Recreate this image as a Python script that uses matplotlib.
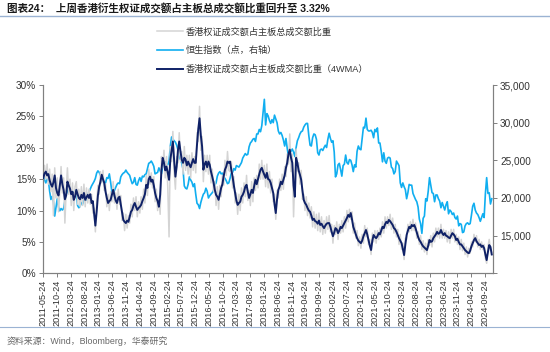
import numpy as np
import pandas as pd
import matplotlib
matplotlib.use("Agg")
import matplotlib.pyplot as plt
from matplotlib.lines import Line2D
from matplotlib.ticker import FuncFormatter

plt.rcParams['font.family'] = ['Liberation Sans', 'Noto Sans CJK SC', 'DejaVu Sans']

# 双周数据（2011-05 起，每 14 天一个点）
# 恒生指数（点，右轴）
hsi = [
    # 2011
    23100, 22400, 22000, 22500, 22400, 20900, 19800, 20200, 19500, 17600, 18800, 19900, 18800, 18300, 18600, 18400,
    # 2012
    18600, 19600, 20500, 20900, 21400, 21200, 20900, 20600, 20700, 21000, 20500, 19000, 18700, 18900, 19400, 19200,
    19800, 20000, 19700, 20500, 20800, 21200, 21600, 21900, 22200, 22600,
    # 2013
    23300, 23600, 23400, 23000, 22800, 22300, 22100, 22000, 22700, 22600, 23200, 22100, 20800, 20300, 21000, 21400,
    21800, 22000, 21900, 22800, 23100, 23300, 23400, 23700, 23400, 23200,
    # 2014
    23000, 22400, 21900, 22100, 22700, 21800, 21700, 22300, 22700, 22200, 22900, 22800, 23100, 23200, 23900, 24600,
    24700, 24900, 24600, 24200, 23200, 23300, 23400, 24000, 23600, 23200,
    # 2015
    24200, 24700, 24800, 24500, 24400, 24900, 26900, 28100, 27800, 27600, 27400, 27000, 26400, 25400, 25100, 24600,
    23800, 21600, 21300, 21200, 21800, 22800, 22400, 22100, 21500, 21900,
    # 2016
    20500, 19300, 19100, 18600, 19400, 20000, 20500, 20700, 21300, 20900, 20000, 20300, 20500, 20700, 21000, 21700,
    22000, 22900, 23300, 23500, 23200, 23300, 22800, 22600, 22300, 21900, 22000,
    # 2017
    22600, 23300, 23400, 23900, 23700, 24300, 24200, 24100, 24400, 24700, 25300, 25600, 25900, 25700, 25800, 26800,
    27300, 27500, 27800, 27900, 27500, 28500, 28500, 29100, 28800, 29600,
    # 2018
    31400, 33100, 29700, 31200, 30900, 30300, 29900, 30400, 30000, 31000, 30500, 30000, 28900, 28500, 28700, 28300,
    27700, 26900, 27900, 26600, 25500, 26400, 26200, 26500, 26100, 25500,
    # 2019
    26700, 27600, 28000, 28500, 28800, 28900, 29400, 29700, 29900, 29900, 28300, 27000, 26900, 28000, 28500, 28400,
    27800, 26000, 25700, 26400, 26500, 26300, 26700, 27000, 26700, 27800,
    # 2020
    28600, 27900, 27400, 27600, 26100, 22800, 23200, 24400, 24600, 23800, 22900, 24300, 24500, 25700, 24700, 24500,
    25100, 25000, 24400, 23500, 24400, 24100, 26200, 26900, 26500, 26400,
    # 2021
    27900, 29400, 29300, 30600, 29100, 28900, 28900, 29000, 28700, 28000, 29100, 28800, 29300, 27300, 27300, 26200,
    24800, 26000, 24900, 24600, 25300, 25400, 25300, 24100, 23900, 23200,
    # 2022
    23500, 24900, 24600, 24300, 22000, 21400, 22000, 21500, 21100, 19900, 20700, 21800, 21700, 21700, 20600, 20200,
    19800, 19500, 18800, 17200, 16600, 15300, 17300, 17600, 19900, 19600,
    # 2023
    20900, 22700, 21700, 20700, 20600, 19500, 20400, 20400, 19900, 19600, 18700, 19400, 18900, 18400, 19100, 19500,
    17900, 18400, 18200, 17800, 18000, 17400, 17200, 17600, 16300, 16600,
    # 2024
    16500, 15400, 15500, 16300, 16600, 16700, 16500, 16600, 17700, 18900, 19300, 18400, 18000, 17800, 17400, 16900,
    17400, 17900, 17400, 20600, 22700, 20600, 20700, 19200, 19900,
]

# 香港权证成交额占主板成交额比重（4WMA，%）
wma = [
    15.2, 15.9, 16.2, 15.6, 15.8, 14.8, 14.2, 13.8, 14.5, 15.6, 13.6, 12.8, 12.4, 14.0, 15.6, 14.2,
    13.3, 11.8, 12.4, 14.6, 14.0, 13.5, 12.6, 13.0, 11.7, 12.2, 13.3, 12.6, 12.0, 11.8, 12.5, 12.0,
    12.8, 11.7, 12.1, 12.5, 12.0, 12.6, 11.2, 11.5, 9.5, 7.6,
    9.8, 12.4, 13.8, 14.6, 15.7, 15.0, 14.4, 13.0, 12.0, 11.2, 11.5, 11.7, 12.5, 13.3, 12.4, 11.6,
    11.2, 12.0, 12.2, 11.0, 9.8, 8.5, 8.2, 8.0, 8.4, 8.2,
    9.0, 9.8, 10.1, 10.8, 11.2, 10.6, 10.1, 10.4, 10.6, 10.9, 11.5, 12.0, 12.6, 14.1, 13.6, 15.0,
    15.4, 14.6, 14.9, 14.0, 12.8, 12.0, 11.5, 10.6, 12.5, 16.4,
    18.4, 17.6, 16.4, 17.0, 16.0, 14.9, 18.1, 19.5, 21.0, 18.0, 15.4, 17.0, 19.6, 21.0, 19.4, 18.1,
    17.6, 18.4, 18.1, 17.2, 17.8, 17.3, 16.9, 17.6, 18.2, 17.6,
    17.6, 20.5, 23.0, 24.7, 22.0, 20.2, 16.5, 17.4, 17.8, 16.9, 17.8, 17.3, 16.2, 15.4, 14.5, 13.3,
    12.5, 12.2, 11.7, 12.6, 13.6, 14.2, 15.5, 16.5, 17.0, 17.8, 17.6,
    17.8, 16.5, 15.4, 14.0, 12.8, 11.6, 10.9, 11.2, 11.4, 12.2, 12.5, 13.0, 13.8, 14.1, 13.0, 12.0,
    12.6, 13.3, 12.8, 13.9, 14.9, 14.2, 15.0, 15.8, 16.5, 16.8,
    16.2, 15.7, 15.2, 16.0, 15.0, 14.9, 14.4, 13.6, 12.8, 11.0, 9.6, 11.8, 13.3, 13.8, 14.6, 14.2,
    14.9, 15.6, 16.8, 17.6, 19.0, 19.7, 18.4, 17.6, 14.0, 12.2,
    18.4, 17.6, 16.4, 15.7, 14.9, 13.2, 11.7, 11.2, 10.9, 10.4, 10.0, 9.8, 9.2, 8.5, 8.7, 8.3,
    8.2, 7.9, 8.4, 7.7, 7.9, 7.5, 7.2, 7.6, 7.9, 8.0,
    8.0, 7.4, 6.6, 5.9, 6.5, 7.2, 7.0, 6.4, 6.8, 7.4, 7.2, 7.6, 8.0, 8.4, 8.8, 9.3,
    9.0, 9.6, 8.6, 7.4, 6.8, 6.2, 5.6, 5.2, 5.0, 4.8,
    5.2, 5.9, 6.4, 6.9, 6.2, 5.3, 4.4, 3.7, 5.2, 6.1, 5.8, 5.6, 5.9, 6.4, 6.2, 6.8,
    7.4, 7.2, 7.8, 8.2, 8.0, 8.5, 8.3, 8.0, 7.7, 7.2,
    7.0, 6.6, 6.1, 5.6, 5.2, 4.8, 3.9, 2.9, 4.6, 6.1, 6.8, 7.4, 7.2, 7.7, 7.5, 7.7,
    7.2, 6.5, 5.8, 5.3, 5.0, 4.6, 4.3, 4.1, 3.9, 3.7,
    4.4, 5.3, 5.0, 5.1, 5.6, 5.9, 6.2, 6.6, 6.3, 6.4, 6.9, 6.4, 6.1, 6.4, 6.0, 5.9,
    5.7, 5.6, 6.0, 6.4, 6.2, 5.9, 5.3, 5.5, 5.0, 4.6,
    4.6, 4.3, 4.0, 3.7, 3.5, 3.3, 3.2, 3.6, 4.3, 4.8, 5.3, 5.6, 5.1, 4.8, 4.5, 4.6,
    4.2, 4.4, 4.0, 3.0, 2.1, 3.4, 4.5, 4.2, 3.0,
]

# 香港权证成交额占主板总成交额比重（%）
raw = [
    14.5, 17.2, 15.0, 17.4, 14.2, 16.6, 13.0, 15.8, 9.2, 16.8, 12.0, 15.2, 9.8, 13.0, 17.0, 12.8,
    15.2, 8.0, 13.0, 16.8, 12.6, 15.0, 10.8, 14.4, 10.0, 13.8, 14.6, 11.0, 13.4, 10.6, 13.8, 10.8,
    14.2, 10.6, 13.6, 11.2, 13.4, 11.0, 12.6, 9.6, 10.4, 6.6,
    11.0, 14.0, 12.6, 16.2, 14.4, 16.4, 13.2, 14.2, 10.6, 12.6, 10.0, 13.0, 11.4, 14.6, 11.2, 12.8,
    10.2, 13.4, 11.0, 12.4, 8.4, 9.6, 6.8, 9.4, 7.2, 9.2,
    8.0, 11.0, 9.0, 12.0, 10.0, 12.2, 9.0, 11.4, 9.6, 12.2, 10.2, 13.4, 11.2, 15.6, 12.4, 16.6,
    14.2, 16.0, 13.6, 15.4, 11.4, 13.4, 10.0, 11.8, 9.4, 18.6,
    16.8, 19.6, 15.2, 18.6, 13.6, 5.8, 20.2, 17.8, 22.6, 16.2, 13.4, 18.6, 17.6, 22.4, 17.8, 19.4,
    15.8, 20.2, 16.4, 18.8, 15.8, 18.8, 15.2, 19.2, 16.4, 18.6,
    16.0, 22.4, 21.0, 26.6, 19.6, 21.8, 14.6, 18.8, 16.2, 18.8, 15.8, 18.8, 14.4, 16.6, 13.0, 14.6,
    10.8, 13.8, 10.2, 14.0, 12.2, 15.6, 14.0, 18.0, 15.6, 19.4, 16.4,
    16.2, 17.8, 13.6, 15.4, 11.2, 12.8, 9.4, 12.6, 10.0, 13.6, 11.2, 14.4, 12.2, 15.6, 11.6, 13.2,
    10.8, 14.6, 11.4, 15.2, 13.2, 15.6, 13.6, 17.4, 15.0, 18.0,
    15.0, 17.2, 13.8, 17.4, 13.6, 16.2, 12.8, 15.0, 11.4, 12.6, 8.6, 13.2, 12.0, 15.0, 13.2, 15.8,
    13.4, 17.0, 15.4, 19.0, 17.4, 22.2, 16.2, 19.0, 9.0, 15.4,
    19.8, 16.2, 17.6, 14.2, 16.4, 11.8, 12.6, 10.0, 12.2, 9.2, 11.2, 8.8, 10.6, 7.4, 9.8, 7.2,
    9.4, 6.8, 9.6, 6.6, 9.0, 6.2, 8.4, 6.4, 9.0, 7.0,
    9.2, 6.6, 7.8, 4.8, 7.6, 6.2, 8.2, 5.4, 7.8, 6.4, 8.4, 6.6, 9.0, 7.2, 10.0, 8.2,
    10.2, 8.6, 9.8, 6.4, 8.0, 5.6, 6.8, 4.4, 5.8, 4.0,
    6.2, 4.8, 7.6, 5.8, 7.2, 4.6, 5.4, 3.0, 6.4, 5.0, 6.8, 4.8, 6.8, 5.4, 7.2, 5.8,
    8.2, 6.4, 9.0, 7.2, 9.0, 7.6, 9.4, 7.0, 8.8, 6.4,
    7.8, 5.8, 7.0, 4.6, 6.2, 3.8, 4.8, 2.2, 5.6, 5.4, 7.8, 6.6, 8.2, 6.8, 8.6, 6.8,
    8.0, 5.6, 6.6, 4.6, 6.0, 3.8, 5.2, 3.4, 4.8, 3.0,
    5.4, 4.4, 6.0, 4.2, 6.4, 5.0, 7.2, 5.8, 7.2, 5.6, 7.8, 5.6, 7.0, 5.6, 6.8, 5.0,
    6.6, 4.8, 7.0, 5.6, 7.0, 5.0, 6.2, 4.6, 5.8, 3.8,
    5.4, 3.6, 4.8, 3.0, 4.2, 2.6, 4.0, 3.2, 5.0, 4.2, 6.2, 5.0, 6.0, 4.2, 5.4, 3.8,
    5.0, 3.8, 4.6, 2.4, 1.6, 4.2, 5.4, 3.8, 3.32,
]

start = '2011-05-27'
tick_dates = pd.date_range('2011-05-24', '2024-09-24', freq=pd.DateOffset(months=5))

label_raw = '香港权证成交额占主板总成交额比重'
label_hsi = '恒生指数（点，右轴）'
label_wma = '香港权证成交额占主板成交额比重（4WMA）'

fig = plt.figure(figsize=(5.5, 3.52), dpi=100)
ax = fig.add_axes([0.0782, 0.2236, 0.8182, 0.5349])
ax2 = ax.twinx()

d_raw = pd.date_range(start, periods=len(raw), freq='14D')
d_wma = pd.date_range(start, periods=len(wma), freq='14D')
d_hsi = pd.date_range(start, periods=len(hsi), freq='14D')

l_raw, = ax.plot(d_raw, raw, color='#d4d4d4', lw=1.1, zorder=1)
l_wma, = ax.plot(d_wma, wma, color='#0f2167', lw=1.4, zorder=3)
l_hsi, = ax2.plot(d_hsi, hsi, color='#10aef0', lw=1.2)

ax.set_zorder(ax2.get_zorder() + 1)
ax.patch.set_visible(False)

ax.set_ylim(0, 30)
ax.set_yticks(range(0, 31, 5))
ax.yaxis.set_major_formatter(FuncFormatter(lambda v, p: f'{v:.0f}%'))
ax2.set_ylim(10000, 35000)
ax2.set_yticks(range(10000, 35001, 5000))
ax2.set_yticklabels(['', '15,000', '20,000', '25,000', '30,000', '35,000'])

ax.set_xlim(pd.Timestamp('2011-05-24'), pd.Timestamp('2024-12-20'))
ax.set_xticks(tick_dates)
ax.set_xticklabels([d.strftime('%Y-%m-%d') for d in tick_dates], rotation=90, fontsize=6.6)

for a in (ax, ax2):
    a.spines['top'].set_visible(False)
    for s in ('left', 'right', 'bottom'):
        a.spines[s].set_color('#808080')
        a.spines[s].set_linewidth(0.8)
    a.tick_params(axis='both', direction='out', length=3, width=0.7, color='#808080',
                  labelsize=7.2, labelcolor='#333333', pad=2)
ax.tick_params(axis='x', labelsize=6.6, pad=1.5)

fig.legend([l_raw, l_hsi, l_wma], [label_raw, label_hsi, label_wma],
           loc='upper left', bbox_to_anchor=(0.278, 0.935), frameon=False,
           fontsize=6.6, handlelength=2.8, handletextpad=0.3, labelspacing=1.05,
           borderpad=0, labelcolor='#333333')

fig.text(0.012, 0.977, '图表24：  上周香港衍生权证成交额占主板总成交额比重回升至 3.32%',
         fontsize=7.6, fontweight='bold', va='center', color='#1a1a1a')
fig.add_artist(Line2D([0.0, 1.0], [0.955, 0.955], color='#9bb3d3', lw=1.0))
fig.add_artist(Line2D([0.0, 1.0], [0.071, 0.071], color='#9bb3d3', lw=0.8))
fig.text(0.012, 0.031, '资料来源：Wind，Bloomberg，华泰研究', fontsize=6.4,
         va='center', color='#666666')

fig.savefig('out.png', dpi=100)
